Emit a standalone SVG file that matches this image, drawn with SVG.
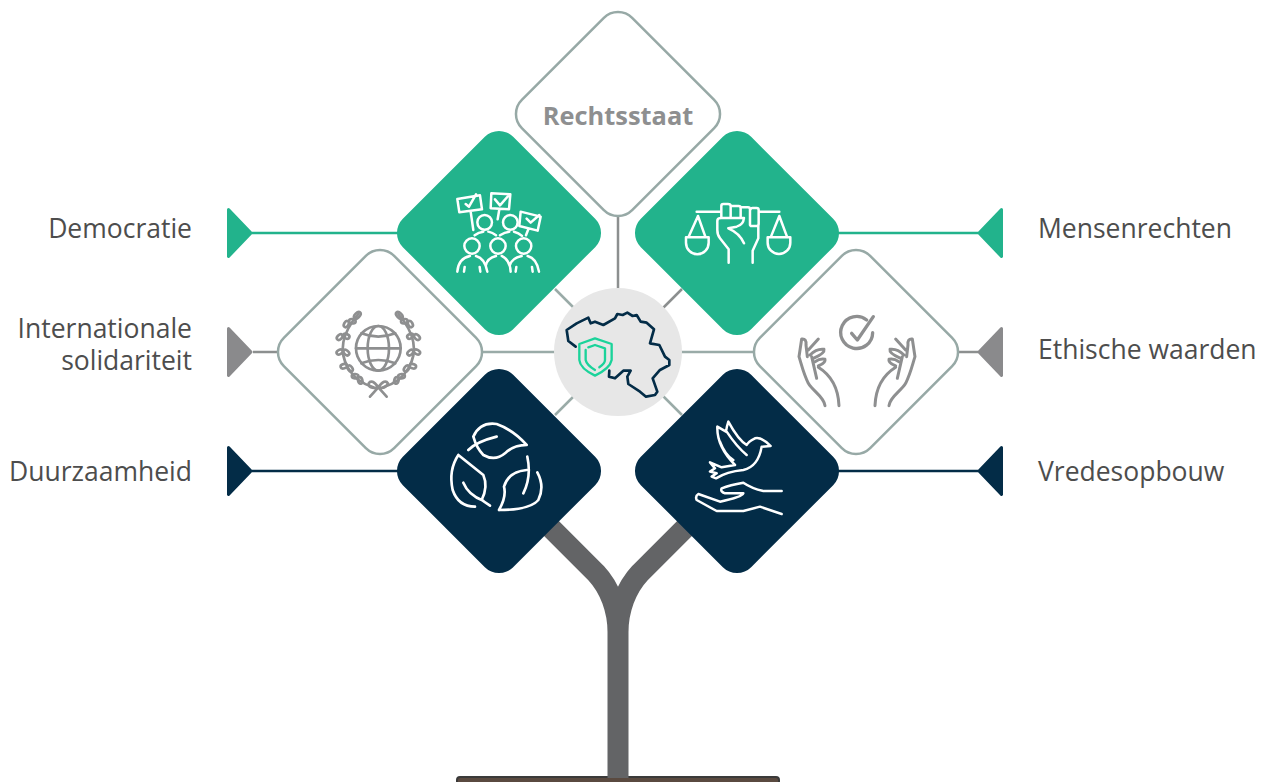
<svg xmlns="http://www.w3.org/2000/svg" width="1270" height="782" viewBox="0 0 1270 782">
<style>
.lbl{font-family:"Open Sans","Liberation Sans",sans-serif;font-size:26.5px;fill:#4d4d4d}
.ic{fill:none;stroke-linecap:round;stroke-linejoin:round}
.w{stroke:#fff}
.g{stroke:#8e8f90}
.lc{stroke-width:2.5;fill:none}
.tri{stroke-width:3;stroke-linejoin:round}
</style>
<defs>
<rect id="dia" x="-78" y="-78" width="156" height="156" rx="20" ry="20" transform="rotate(45)"/>
<g id="pair"><ellipse cx="-10" cy="0" rx="10" ry="6.5" transform="rotate(-35 -10 0)"/><ellipse cx="10" cy="0" rx="10" ry="6.5" transform="rotate(35 10 0)"/></g>
<g id="wreath">
<path d="M265 102Q190 190 235 265Q258 305 310 322"/>
<ellipse cx="262" cy="106" rx="12" ry="7" transform="rotate(-45 262 106)"/>
<use href="#pair" transform="translate(238 128) rotate(-25)"/>
<use href="#pair" transform="translate(219 170) rotate(-8)"/>
<use href="#pair" transform="translate(219 217) rotate(5)"/>
<use href="#pair" transform="translate(231 262) rotate(20)"/>
<use href="#pair" transform="translate(263 295) rotate(40)"/>
</g>
<path id="hand" d="M225 347C222 320 190 305 175 280C160 250 155 225 147 200L155 147Q170 145 168 165L172 200M175 180L205 147M180 195Q200 175 222 178Q225 190 190 205M195 215Q210 205 225 208Q228 218 205 228M185 200L200 265M267 347C265 300 250 260 205 232"/>
</defs>
<rect width="1270" height="782" fill="#fff"/>
<g id="trunk">
<rect x="457" y="777" width="322" height="12" rx="3" fill="#5a4a40" stroke="#3a3a3a" stroke-width="2"/>
<path d="M618 778V632C618 610 610 588 596 573L535 512M618 632C618 610 626 588 640 573L701 512" fill="none" stroke="#636466" stroke-width="21"/>
</g>
<g id="connectors">
<path class="lc" stroke="#8c8f8f" d="M618 217V290M682 289L663 308M253 352H277M959 352H978"/>
<path class="lc" stroke="#9aaba8" d="M555 289L574 308M555 415L574 396M682 415L663 396M483 352H556M680 352H753"/>
<path class="lc" stroke="#22b38c" d="M252 233H400M836 233H978"/>
<path class="lc" stroke="#032c47" d="M252 471H400M836 471H978"/>
<polygon class="tri" fill="#22b38c" stroke="#22b38c" points="228.5,209.5 251,233 228.5,256.5"/>
<polygon class="tri" fill="#8a8a8c" stroke="#8a8a8c" points="228.5,328.5 251,352 228.5,375.5"/>
<polygon class="tri" fill="#032c47" stroke="#032c47" points="228.5,447.5 251,471 228.5,494.5"/>
<polygon class="tri" fill="#22b38c" stroke="#22b38c" points="1001.5,209.5 979,233 1001.5,256.5"/>
<polygon class="tri" fill="#8a8a8c" stroke="#8a8a8c" points="1001.5,328.5 979,352 1001.5,375.5"/>
<polygon class="tri" fill="#032c47" stroke="#032c47" points="1001.5,447.5 979,471 1001.5,494.5"/>
</g>
<g id="rechtsstaat">
<use href="#dia" transform="translate(618 114)" fill="#fff" stroke="#97a9a6" stroke-width="2.5"/>
<text x="618" y="125" text-anchor="middle" font-family="Open Sans, Liberation Sans, sans-serif" font-weight="700" font-size="25.4" fill="#8e8f90">Rechtsstaat</text>
</g>
<g id="solidariteit">
<use href="#dia" transform="translate(380 352)" fill="#fff" stroke="#97a9a6" stroke-width="2.5"/>
<g transform="translate(270 280) scale(.3333)" class="ic g" stroke-width="8">
<circle cx="325" cy="205" r="67"/><ellipse cx="325" cy="205" rx="32" ry="67"/><path d="M258 205H392M274 160Q325 180 376 160M274 250Q325 230 376 250"/>
<use href="#wreath"/>
<use href="#wreath" transform="translate(650 0) scale(-1 1)"/>
<path d="M325 322Q305 295 296 310Q295 328 325 322Q345 328 354 310Q345 295 325 322ZM300 350L325 322L350 350"/>
</g>
</g>
<g id="ethische-waarden">
<use href="#dia" transform="translate(856 352)" fill="#fff" stroke="#97a9a6" stroke-width="2.5"/>
<g transform="translate(750 290) scale(.3333)" class="ic g" stroke-width="9">
<path stroke-width="10" d="M350 90A48 48 0 1 0 368 128M305 130L322 150L370 80"/>
<use href="#hand"/>
<use href="#hand" transform="translate(642 0) scale(-1 1)"/>
</g>
</g>
<g id="centrum">
<circle cx="618" cy="352" r="64" fill="#e7e7e7"/>
<g transform="translate(540 280) scale(.3333)" class="ic">
<path stroke="#032c47" stroke-width="8" d="M107 200L85 183L80 150L110 130L145 113L152 130L165 125L190 135L225 115L232 102L248 105L262 98L278 108L290 105L302 125L320 128L342 148L330 190L358 195L375 230L388 240L388 255L360 270L338 295L352 335L345 345L318 350L300 335L265 312L262 290L272 272L250 272L225 295L207 290L208 272"/>
<path stroke="#1bd39a" stroke-width="7" d="M165 175L215 192V240Q210 265 165 287Q120 265 118 240V192ZM145 202L165 195L195 205V240Q195 250 178 262M137 210V240Q140 255 165 270"/>
</g>
</g>
<g id="democratie">
<use href="#dia" transform="translate(499 233)" fill="#22b38c"/>
<g transform="translate(400 130) scale(.3333)" class="ic w" stroke-width="7.5">
<path d="M172 207L240 196L246 238L178 247ZM197 222L207 230L228 193M212 245L220 300M274 190L331 193L327 238L272 235ZM285 208L300 226L327 195M298 238L293 268M362 245L422 260L413 302L358 288ZM380 266L392 278L418 255M385 298L378 316"/>
<circle cx="254" cy="277" r="22"/><circle cx="331" cy="277" r="22"/><circle cx="216" cy="348" r="23"/><circle cx="294" cy="348" r="23"/><circle cx="371" cy="348" r="23"/>
<path d="M224 316Q236 306 250 305M265 305Q278 308 288 316M300 316Q314 306 328 305M342 305Q356 308 366 318M172 425Q175 385 210 378M228 378Q255 385 262 425M258 405Q262 385 288 378M305 378Q330 390 332 425M330 405Q335 385 365 378M383 378Q410 385 417 425M192 425L194 411M241 425L239 411M347 425L349 411M398 425L396 411"/>
</g>
</g>
<g id="mensenrechten">
<use href="#dia" transform="translate(737 233)" fill="#22b38c"/>
<g transform="translate(620 130) scale(.3333)" class="ic w" stroke-width="7.5">
<path d="M230 245H300M418 245H478M234 258L206 320M234 258L256 320M198 322H266V338A33 34 0 0 1 198 338ZM478 258L453 320M478 258L501 320M443 322H511V338A34 34 0 0 1 443 338Z"/>
<path d="M326 398V358L300 325Q292 315 292 300V272Q292 264 304 264H372M372 264Q370 285 350 290L325 295Q360 310 372 340M304 264V228Q304 222 310 222H324Q332 222 332 228V264M332 228H356Q362 228 362 234V264M362 232H384Q390 232 390 238V285M392 238Q392 234 398 234H410Q416 234 416 240V282Q416 288 410 288H392M415 288V325L398 362V398"/>
</g>
</g>
<g id="duurzaamheid">
<use href="#dia" transform="translate(499 471)" fill="#032c47"/>
<g transform="translate(430 410) scale(.3333)" class="ic w" stroke-width="8">
<path d="M115 120Q140 95 200 80M130 80Q150 35 200 42Q250 60 290 105Q250 105 225 130Q195 155 160 135Q140 115 130 80"/>
<path d="M85 135Q55 180 68 240Q85 290 135 290M85 135Q135 175 160 195Q175 230 155 270L180 287M100 218Q115 255 160 272"/>
<path d="M207 300Q300 300 325 270Q345 230 322 187M207 300Q230 260 222 230Q235 185 290 180M292 140Q305 200 280 250"/>
</g>
</g>
<g id="vredesopbouw">
<use href="#dia" transform="translate(737 471)" fill="#032c47"/>
<g transform="translate(680 410) scale(.3333)" class="ic w" stroke-width="7.5">
<path d="M108 205Q140 185 190 180Q235 170 245 110L272 108Q245 80 225 85Q205 95 200 105Q175 90 145 35Q140 50 138 65L112 50Q110 110 165 165L125 172L90 157L105 175L90 185L110 190L95 200ZM120 95Q135 135 160 150M140 65Q170 110 200 135"/>
<path d="M305 243H250Q215 235 190 218Q150 225 125 235Q120 245 135 250H190Q185 262 120 275L55 252Q45 258 50 270L110 303H190L240 290L305 312"/>
</g>
</g>
<g id="labels">
<text class="lbl" x="192" y="238" text-anchor="end">Democratie</text>
<text class="lbl" x="192" y="338" text-anchor="end">Internationale</text>
<text class="lbl" x="192" y="370" text-anchor="end">solidariteit</text>
<text class="lbl" x="192" y="481" text-anchor="end">Duurzaamheid</text>
<text class="lbl" x="1038" y="238">Mensenrechten</text>
<text class="lbl" x="1038" y="359">Ethische waarden</text>
<text class="lbl" x="1038" y="481">Vredesopbouw</text>
</g>
</svg>
